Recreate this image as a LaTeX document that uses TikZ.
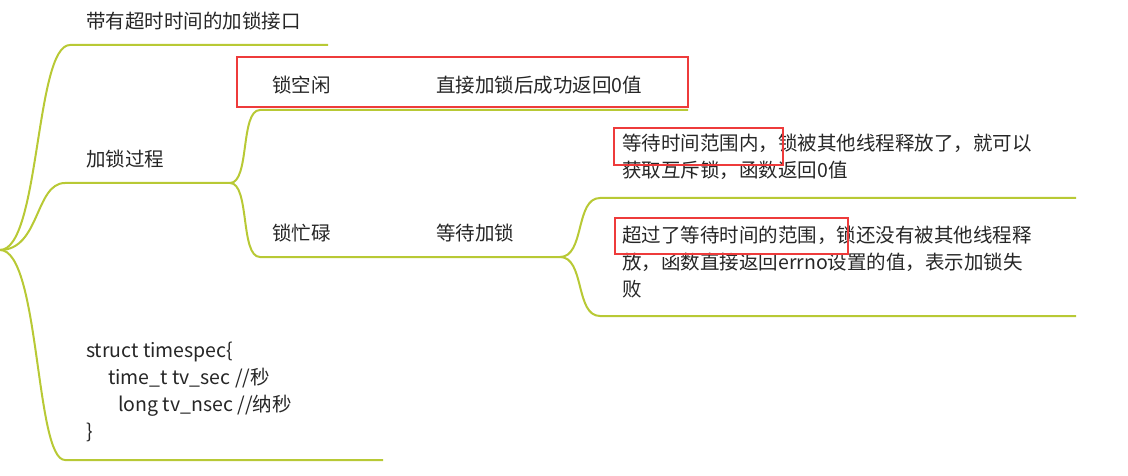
\documentclass[tikz,border=0pt]{standalone}
\usepackage{fontspec}
\setmainfont{Noto Sans CJK SC}
\definecolor{br}{HTML}{B8C935}
\definecolor{rb}{HTML}{EE3B3B}
\tikzset{
 br/.style={draw=br,line width=2pt},
 tx/.style={anchor=west,inner sep=0pt,font=\fontsize{19.5}{27}\selectfont,text=black!85},
 rbox/.style={draw=rb,line width=2pt}
}
\begin{document}
\begin{tikzpicture}[x=1pt,y=-1pt]
\useasboundingbox (0,0) rectangle (1128,476);
\coordinate (root) at (0,250);
\coordinate (a0) at (70,45); \coordinate (a1) at (328,45);
\coordinate (b0) at (65,183); \coordinate (b1) at (230,183);
\coordinate (c0) at (65,460); \coordinate (c1) at (383,460);
\draw[br] (root) .. controls (40,250) and (35,45) .. (a0) -- (a1);
\draw[br] (root) .. controls (40,250) and (35,183) .. (b0) -- (b1);
\draw[br] (root) .. controls (40,250) and (35,460) .. (c0) -- (c1);
\coordinate (d0) at (260,110); \coordinate (d1) at (688,110);
\draw[br] (b1) .. controls (250,183) and (240,110) .. (d0) -- (d1);
\coordinate (e0) at (260,257); \coordinate (e1) at (560,257);
\draw[br] (b1) .. controls (250,183) and (240,257) .. (e0) -- (e1);
\coordinate (f0) at (600,198); \coordinate (f1) at (1076,198);
\coordinate (g0) at (600,316); \coordinate (g1) at (1076,316);
\draw[br] (e1) .. controls (585,257) and (575,198) .. (f0) -- (f1);
\draw[br] (e1) .. controls (585,257) and (575,316) .. (g0) -- (g1);
\node[tx] (t1) at (86,21) {带有超时时间的加锁接口};
\node[tx] (t2) at (86,159) {加锁过程};
\node[tx] (t3) at (272,85) {锁空闲};
\node[tx] (t4) at (436,85) {直接加锁后成功返回0值};
\node[tx] (t5) at (272,233) {锁忙碌};
\node[tx] (t6) at (436,233) {等待加锁};
\node[tx,align=left,anchor=north west] (t7) at (622,134) {等待时间范围内，锁被其他线程释放了，就可以\\获取互斥锁，函数返回0值};
\node[tx,align=left,anchor=north west] (t8) at (622,226) {超过了等待时间的范围，锁还没有被其他线程释\\放，函数直接返回errno设置的值，表示加锁失\\败};
\node[tx,align=left,anchor=north west] (t9) at (86,342) {struct timespec\{\\\hspace*{22pt}time\_t tv\_sec //秒\\\hspace*{32pt}long tv\_nsec //纳秒\\\}};
\draw[rbox] (237,57) rectangle (688,107);
\draw[rbox] (614,128) rectangle (783,165);
\draw[rbox] (615,218) rectangle (848,254);
\end{tikzpicture}
\end{document}
